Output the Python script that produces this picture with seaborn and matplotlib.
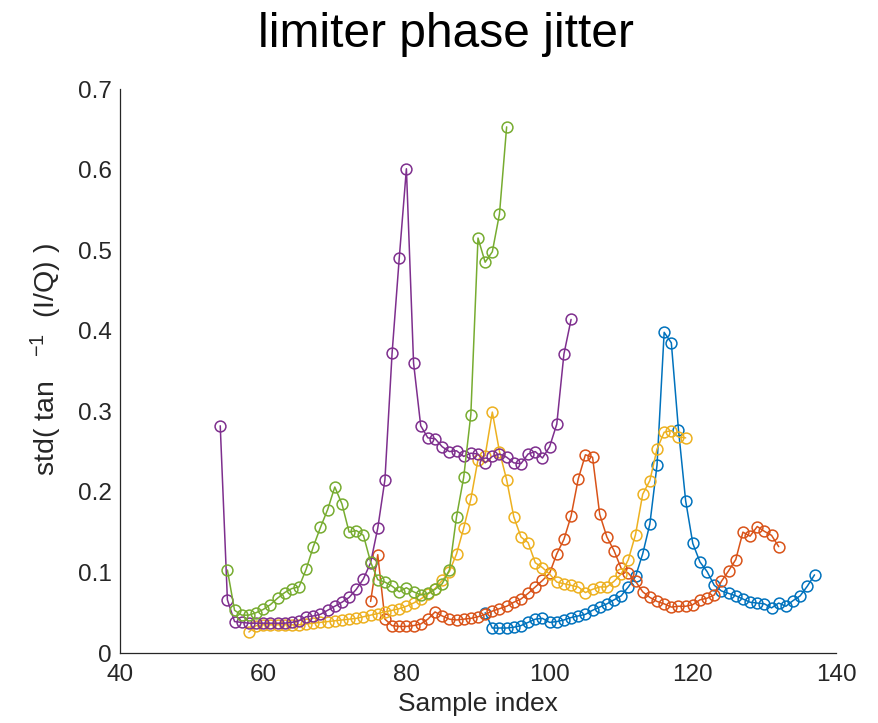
import numpy as np
import matplotlib
matplotlib.use("Agg")
import matplotlib.pyplot as plt
import seaborn as sns

# ---------------- data ----------------
blue_start = 91
blue_vals = [0.050, 0.031, 0.031, 0.031, 0.032, 0.034, 0.038, 0.042, 0.043, 0.038,
             0.039, 0.041, 0.044, 0.046, 0.048, 0.053, 0.057, 0.061, 0.066, 0.071,
             0.082, 0.095, 0.123, 0.160, 0.233, 0.398, 0.385, 0.277, 0.189, 0.136,
             0.113, 0.101, 0.084, 0.077, 0.074, 0.071, 0.067, 0.063, 0.062, 0.061,
             0.056, 0.062, 0.058, 0.065, 0.071, 0.083, 0.097]

orange_start = 75
orange_vals = [0.064, 0.122, 0.042, 0.034, 0.033, 0.033, 0.034, 0.036, 0.042, 0.051,
               0.046, 0.042, 0.041, 0.042, 0.043, 0.045, 0.048, 0.052, 0.055, 0.058,
               0.063, 0.067, 0.074, 0.082, 0.090, 0.099, 0.123, 0.141, 0.170, 0.216,
               0.246, 0.243, 0.172, 0.144, 0.127, 0.105, 0.099, 0.089, 0.076, 0.069,
               0.064, 0.061, 0.057, 0.058, 0.058, 0.060, 0.066, 0.068, 0.072, 0.089,
               0.102, 0.116, 0.150, 0.145, 0.157, 0.151, 0.146, 0.132]

yellow_start = 58
yellow_vals = [0.026, 0.034, 0.035, 0.035, 0.035, 0.035, 0.035, 0.035, 0.036, 0.037,
               0.038, 0.039, 0.040, 0.041, 0.042, 0.043, 0.045, 0.047, 0.049, 0.051,
               0.053, 0.055, 0.058, 0.062, 0.067, 0.073, 0.080, 0.090, 0.101, 0.123,
               0.155, 0.191, 0.240, 0.245, 0.299, 0.250, 0.215, 0.169, 0.144, 0.137,
               0.112, 0.106, 0.098, 0.088, 0.086, 0.084, 0.082, 0.075, 0.079, 0.082,
               0.082, 0.089, 0.098, 0.116, 0.147, 0.197, 0.214, 0.253, 0.274, 0.276,
               0.268, 0.267]

purple_start = 54
purple_vals = [0.282, 0.066, 0.039, 0.038, 0.037, 0.037, 0.037, 0.037, 0.037, 0.037,
               0.038, 0.040, 0.045, 0.046, 0.048, 0.053, 0.058, 0.063, 0.069, 0.079,
               0.092, 0.112, 0.155, 0.215, 0.372, 0.490, 0.601, 0.360, 0.282, 0.267,
               0.266, 0.256, 0.250, 0.251, 0.244, 0.248, 0.247, 0.236, 0.244, 0.247,
               0.243, 0.236, 0.235, 0.247, 0.250, 0.242, 0.256, 0.284, 0.371, 0.414]

green_start = 55
green_vals = [0.103, 0.053, 0.047, 0.047, 0.050, 0.054, 0.060, 0.068, 0.075, 0.080,
              0.082, 0.104, 0.132, 0.156, 0.178, 0.206, 0.185, 0.150, 0.152, 0.146,
              0.113, 0.091, 0.088, 0.083, 0.076, 0.081, 0.076, 0.072, 0.074, 0.079,
              0.086, 0.103, 0.169, 0.218, 0.296, 0.515, 0.485, 0.498, 0.545, 0.653]

series_starts = [blue_start, orange_start, yellow_start, purple_start, green_start]
series_vals = [blue_vals, orange_vals, yellow_vals, purple_vals, green_vals]
series_colors = ["#0072BD", "#D95319", "#EDB120", "#7E2F8E", "#77AC30"]

x_ticks = [40, 60, 80, 100, 120, 140]
y_ticks = [0, 0.1, 0.2, 0.3, 0.4, 0.5, 0.6, 0.7]
y_tick_labels = ["0", "0.1", "0.2", "0.3", "0.4", "0.5", "0.6", "0.7"]

# ---------------- plot ----------------
sns.set_style("white")
plt.rcParams["font.family"] = ["Liberation Sans", "DejaVu Sans"]
plt.rcParams["mathtext.fontset"] = "custom"
plt.rcParams["mathtext.rm"] = "Liberation Sans"
plt.rcParams["mathtext.it"] = "Liberation Sans"
plt.rcParams["mathtext.bf"] = "Liberation Sans:bold"

fig = plt.figure(figsize=(8.79, 7.23), dpi=100)
ax = fig.add_axes([120 / 879, 1 - 653 / 723, (836 - 120) / 879, (653 - 89) / 723])

for start, vals, col in zip(series_starts, series_vals, series_colors):
    xs = np.arange(start, start + len(vals))
    sns.lineplot(x=xs, y=vals, ax=ax, color=col, linewidth=1.1,
                 marker="o", markersize=7.8, markerfacecolor="none",
                 markeredgecolor=col, markeredgewidth=1.1, legend=False)

ax.set_xlim(40, 140)
ax.set_ylim(0, 0.7)
ax.set_xticks(x_ticks)
ax.set_yticks(y_ticks)
ax.set_yticklabels(y_tick_labels)

for s in ["top", "right"]:
    ax.spines[s].set_visible(False)
for s in ["left", "bottom"]:
    ax.spines[s].set_color("#262626")
    ax.spines[s].set_linewidth(0.9)

ax.tick_params(axis="both", direction="in", length=6, width=0.9,
               colors="#262626", labelsize=17.5, labelcolor="#262626")
ax.tick_params(axis="x", pad=8)
ax.tick_params(axis="y", pad=6)

ax.set_xlabel("Sample index", fontsize=19, color="#262626", labelpad=4)
ax.set_ylabel(r"std( tan   $^{\mathregular{-1}}$  (I/Q) )", fontsize=20.5,
              color="#262626")
ax.yaxis.set_label_coords(-0.078, (653 - 359) / (653 - 89))
ax.set_title("limiter phase jitter", fontsize=34.5, color="black", pad=30,
             x=(446 - 120) / (836 - 120))

fig.savefig("out.png", dpi=100)
